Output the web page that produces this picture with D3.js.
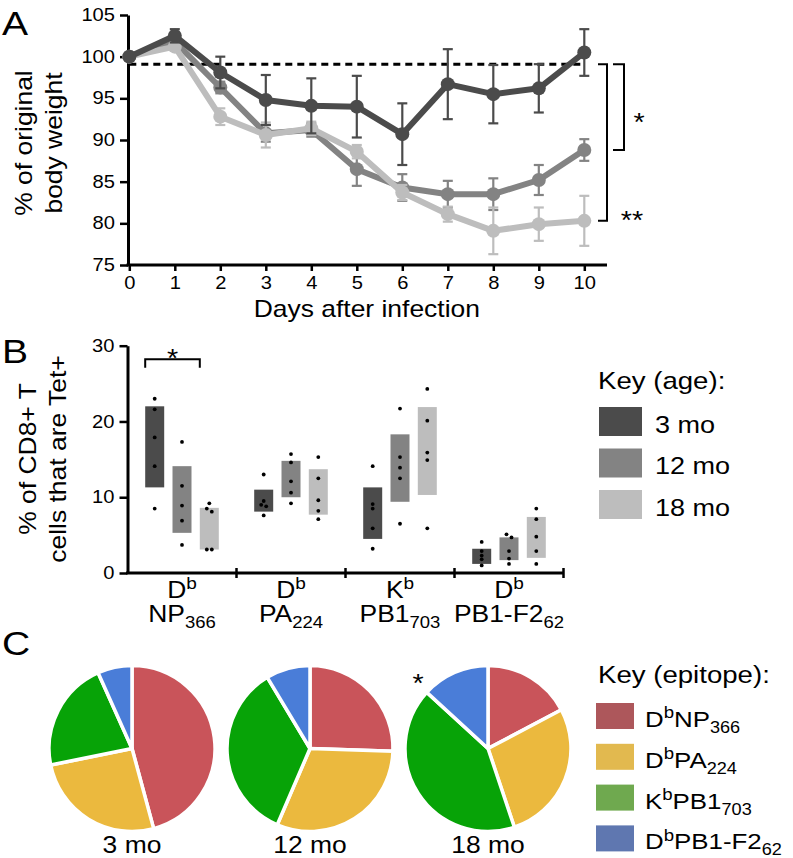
<!DOCTYPE html>
<html><head><meta charset="utf-8">
<script src="https://cdn.jsdelivr.net/npm/d3@7"></script>
<style>
body{margin:0;background:#fff}
svg{display:block}
text{font-family:"Liberation Sans",Arial,Helvetica,sans-serif;fill:#000}
</style>
</head><body>
<svg id="c" width="793" height="858"></svg>
<script>
// ---------------- DATA ----------------
// Panel A: weight curves
const days = [0,1,2,3,4,5,6,7,8,9,10];
const weight3mo  = [100,102.5,98.1,94.8,94.1,94.0,90.7,96.7,95.5,96.2,100.5];
const err3mo     = [0,0.8,1.9,3.0,3.3,3.7,3.7,4.2,3.5,2.9,2.8];
const weight12mo = [100,101.8,96.3,90.8,91.2,86.5,84.3,83.5,83.5,85.2,88.8];
const err12mo    = [0,0.5,0.7,1.0,0.8,2.0,1.6,1.6,1.9,1.8,1.3];
const weight18mo = [100,101.2,92.8,90.6,91.4,88.6,83.7,81.1,79.1,79.9,80.3];
const err18mo    = [0,0.5,1.0,1.5,0.8,0.8,0.9,0.9,2.8,2.0,3.0];
const baselineWeight = 99.1;
const yTicksA = [75,80,85,90,95,100,105];

// Panel B: tetramer+ frequencies
const ages = ["3 mo","12 mo","18 mo"];
const epitopeLine1 = [["D","b"],["D","b"],["K","b"],["D","b"]];
const epitopeLine2 = [["NP","366"],["PA","224"],["PB1","703"],["PB1-F2","62"]];
const barLow  = [[11.3,5.3,3.1],[8.1,10.0,7.7],[4.5,9.4,10.3],[1.2,1.7,2.0]];
const barHigh = [[22.0,14.1,8.6],[11.0,14.8,13.7],[11.3,18.3,21.9],[3.2,4.7,7.4]];
const dotValues = [
  [[23.0,21.6,17.9,14.1,8.5],[17.3,11.5,8.9,6.9,3.7],[9.2,8.5,8.1,3.1,3.1]],
  [[13.0,9.5,9.0,8.8,7.6],[15.7,14.6,12.1,10.6,9.2],[15.3,12.5,9.6,8.2,7.1]],
  [[14.1,9.1,8.5,5.9,3.2],[21.7,15.3,13.9,12.5,6.5],[24.3,20.1,15.9,14.9,5.9]],
  [[4.1,2.9,2.3,1.8,1.0],[5.1,4.7,2.9,1.9,1.2],[8.5,7.1,4.8,2.9,1.2]]
];
const yTicksB = [0,10,20,30];
const sigB = {from:0, to:2, group:0, level:28.2, leg:27.1};

// Panel C: immunodominance hierarchy (% of response)
const pieAges = ["3 mo","12 mo","18 mo"];
const pie3mo  = [45.8,26.0,21.5,6.7];
const pie12mo = [25.5,30.9,34.9,8.6];
const pie18mo = [17.3,27.6,42.0,13.2];
const epitopeLegend = [[["D",""],["b","sup"],["NP",""],["366","sub"]],
                       [["D",""],["b","sup"],["PA",""],["224","sub"]],
                       [["K",""],["b","sup"],["PB1",""],["703","sub"]],
                       [["D",""],["b","sup"],["PB1-F2",""],["62","sub"]]];

// ---------------- STYLE ----------------
const greys = ["#4b4b4b","#838383","#bdbdbd"];
const pieColors = ["#c9545a","#ebb93e","#07a307","#4a7dd8"];
const legendPieColors = ["#ad575b","#e2b94f","#6fa94f","#5f77b0"];
const SX = 1.15;

const svg = d3.select("#c");

function rich(g, x, y, parts, size, opts = {}) {
  const t = g.append("text")
    .attr("transform", `translate(${x},${y})${opts.rotate ? ` rotate(${opts.rotate})` : ""} scale(${SX},1)`)
    .attr("font-size", size)
    .attr("text-anchor", opts.anchor || "start");
  let shift = 0;
  parts.forEach(([s, k]) => {
    const ts = t.append("tspan").text(s);
    let target = 0, fs = size;
    if (k === "sup") { target = -0.38 * size; fs = size * 0.72; }
    if (k === "sub") { target = 0.27 * size; fs = size * 0.7; }
    ts.attr("font-size", fs).attr("dy", target - shift);
    shift = target;
  });
  return t;
}
function scaleTicks(sel, size) {
  sel.selectAll(".tick text").each(function () {
    const el = d3.select(this);
    const x = +el.attr("x") || 0, y = +el.attr("y") || 0;
    el.attr("x", 0).attr("y", 0).attr("transform", `translate(${x},${y}) scale(${SX},1)`)
      .attr("font-size", size).attr("font-family", null).attr("fill", "#000");
  });
  sel.selectAll(".tick line").attr("stroke", "#000").attr("stroke-width", 2.5);
}

// ---------------- PANEL A ----------------
const xA = d3.scaleLinear().domain([0,10]).range([129.3,584.3]);
const yA = d3.scaleLinear().domain([75,105]).range([265,15]);

rich(svg, 2, 35, [["A",""]], 34);
rich(svg, 32, 143, [["% of original",""]], 23, {rotate:-90, anchor:"middle"});
rich(svg, 62, 143, [["body weight",""]], 23, {rotate:-90, anchor:"middle"});

const gyA = svg.append("g").attr("transform", "translate(128,0)")
  .call(d3.axisLeft(yA).tickValues(yTicksA).tickSize(8).tickPadding(5).tickSizeOuter(0));
gyA.select(".domain").attr("stroke", "#000").attr("stroke-width", 3);
scaleTicks(gyA, 17.5);

const gxA = svg.append("g").attr("transform", "translate(0,265)")
  .call(d3.axisBottom(xA).tickValues(days).tickSize(6).tickPadding(6));
gxA.select(".domain").remove();
scaleTicks(gxA, 17.5);
svg.append("line").attr("x1", 126.5).attr("x2", 607).attr("y1", 265).attr("y2", 265)
  .attr("stroke", "#000").attr("stroke-width", 3);

rich(svg, (xA(0) + xA(10)) / 2 + 10, 317, [["Days after infection",""]], 23, {anchor:"middle"});

// baseline dashed
svg.append("line").attr("x1", xA(0)).attr("x2", xA(10) - 3)
  .attr("y1", yA(baselineWeight)).attr("y2", yA(baselineWeight))
  .attr("stroke", "#000").attr("stroke-width", 3).attr("stroke-dasharray", "7,5");

const seriesA = [
  {vals: weight12mo, err: err12mo, color: greys[1]},
  {vals: weight18mo, err: err18mo, color: greys[2]},
  {vals: weight3mo,  err: err3mo,  color: greys[0]}
];
const lineA = d3.line().x((d, i) => xA(days[i])).y(d => yA(d));
seriesA.forEach(s => {
  const g = svg.append("g");
  days.forEach((d, i) => {
    if (s.err[i] <= 0) return;
    const x = xA(d), y1 = yA(s.vals[i] + s.err[i]), y2 = yA(s.vals[i] - s.err[i]);
    g.append("line").attr("x1", x).attr("x2", x).attr("y1", y1).attr("y2", y2)
      .attr("stroke", s.color).attr("stroke-width", 2.2);
    [y1, y2].forEach(y => g.append("line").attr("x1", x - 5).attr("x2", x + 5)
      .attr("y1", y).attr("y2", y).attr("stroke", s.color).attr("stroke-width", 2.2));
  });
  g.append("path").datum(s.vals).attr("d", lineA).attr("fill", "none")
    .attr("stroke", s.color).attr("stroke-width", 6).attr("stroke-linejoin", "round");
  g.selectAll("circle").data(s.vals).join("circle")
    .attr("cx", (d, i) => xA(days[i])).attr("cy", d => yA(d)).attr("r", 7).attr("fill", s.color);
});

// significance brackets (baseline vs. 12 mo and 18 mo at day 10)
function bracket(x, xTick, yTop, yBot) {
  svg.append("path")
    .attr("d", `M${xTick},${yTop}H${x}V${yBot}H${xTick}`)
    .attr("fill", "none").attr("stroke", "#000").attr("stroke-width", 2);
}
bracket(624, 613, yA(baselineWeight), yA(weight12mo[10]));
bracket(607, 598, yA(baselineWeight), yA(weight18mo[10]));
rich(svg, 639, 131, [["*",""]], 25, {anchor:"middle"});
rich(svg, 632, 229, [["**",""]], 25, {anchor:"middle"});

// ---------------- PANEL B ----------------
const xB = d3.scaleBand().domain(d3.range(4)).range([127.5,563.5]);
const inner = d3.scalePoint().domain(ages).range([-27.3,27.3]);
const yB = d3.scaleLinear().domain([0,30]).range([573,345.7]);
const barW = 19;

rich(svg, 2, 363, [["B",""]], 34);
rich(svg, 36, 459, [["% of CD8+ T",""]], 23, {rotate:-90, anchor:"middle"});
rich(svg, 66, 459, [["cells that are Tet+",""]], 23, {rotate:-90, anchor:"middle"});

const gyB = svg.append("g").attr("transform", "translate(127.5,0)")
  .call(d3.axisLeft(yB).tickValues(yTicksB).tickSize(8).tickPadding(5).tickSizeOuter(0));
gyB.select(".domain").attr("stroke", "#000").attr("stroke-width", 3);
scaleTicks(gyB, 17.5);
svg.append("line").attr("x1", 126).attr("x2", 563.5).attr("y1", 573).attr("y2", 573)
  .attr("stroke", "#000").attr("stroke-width", 3);
d3.range(4).forEach(i => {
  const x = xB(i) + xB.bandwidth();
  svg.append("line").attr("x1", x).attr("x2", x).attr("y1", 568).attr("y2", 578)
    .attr("stroke", "#000").attr("stroke-width", 2.5);
});

const cx = (gi, ai) => xB(gi) + xB.bandwidth() / 2 + inner(ages[ai]);
d3.range(4).forEach(gi => {
  ages.forEach((a, ai) => {
    svg.append("rect").attr("x", cx(gi, ai) - barW / 2).attr("width", barW)
      .attr("y", yB(barHigh[gi][ai])).attr("height", yB(barLow[gi][ai]) - yB(barHigh[gi][ai]))
      .attr("fill", greys[ai]);
  });
});
d3.range(4).forEach(gi => {
  ages.forEach((a, ai) => {
    const vals = dotValues[gi][ai];
    const dx = vals.map(() => 0);
    for (let k = 1; k < vals.length; k++) {
      if (Math.abs(vals[k] - vals[k - 1]) < 0.45 && dx[k - 1] === 0) { dx[k - 1] = -2.5; dx[k] = 2.5; }
    }
    vals.forEach((v, k) => svg.append("circle").attr("cx", cx(gi, ai) + dx[k]).attr("cy", yB(v))
      .attr("r", 1.9).attr("fill", "#000"));
  });
  const gc = xB(gi) + xB.bandwidth() / 2;
  rich(svg, gc, 598, epitopeLine1[gi].map((s, k) => [s, k ? "sup" : ""]), 23, {anchor:"middle"});
  rich(svg, gc, 622, epitopeLine2[gi].map((s, k) => [s, k ? "sub" : ""]), 23, {anchor:"middle"});
});
// significance bracket B
{
  const x1 = cx(sigB.group, sigB.from) - barW / 2, x2 = cx(sigB.group, sigB.to) - barW / 2;
  svg.append("path").attr("d", `M${x1},${yB(sigB.leg)}V${yB(sigB.level)}H${x2}V${yB(sigB.leg)}`)
    .attr("fill", "none").attr("stroke", "#000").attr("stroke-width", 2);
  rich(svg, (x1 + x2) / 2, yB(sigB.level) + 8, [["*",""]], 25, {anchor:"middle"});
}
// legend B
rich(svg, 598, 389, [["Key (age):",""]], 24);
ages.forEach((a, i) => {
  const y = 407 + i * 41.5;
  svg.append("rect").attr("x", 599).attr("y", y).attr("width", 43).attr("height", 29).attr("fill", greys[i]);
  rich(svg, 655, y + 25.5, [[a,""]], 23.5);
});

// ---------------- PANEL C ----------------
rich(svg, 2, 655, [["C",""]], 34);
const pieX = d3.scalePoint().domain(pieAges).range([132,488]);
const pieCy = 748.5, pieR = 83;
const pieData = [pie3mo, pie12mo, pie18mo];
const pieGen = d3.pie().sort(null).value(d => d);
const arc = d3.arc().innerRadius(0).outerRadius(pieR);
pieAges.forEach((a, i) => {
  const g = svg.append("g").attr("transform", `translate(${pieX(a)},${pieCy})`);
  g.selectAll("path").data(pieGen(pieData[i])).join("path")
    .attr("d", arc).attr("fill", (d, k) => pieColors[k])
    .attr("stroke", "#fff").attr("stroke-width", 3.5).attr("stroke-linejoin", "round");
  rich(svg, pieX(a), 853, [[a,""]], 23, {anchor:"middle"});
});
rich(svg, pieX("18 mo") - 70, 692, [["*",""]], 25, {anchor:"middle"});

rich(svg, 598, 683, [["Key (epitope):",""]], 24);
epitopeLegend.forEach((parts, i) => {
  const y = 703 + i * 40.8;
  svg.append("rect").attr("x", 596).attr("y", y).attr("width", 38).attr("height", 26).attr("fill", legendPieColors[i]);
  rich(svg, 645, y + 24, parts, 22.5);
});
</script>
</body></html>
